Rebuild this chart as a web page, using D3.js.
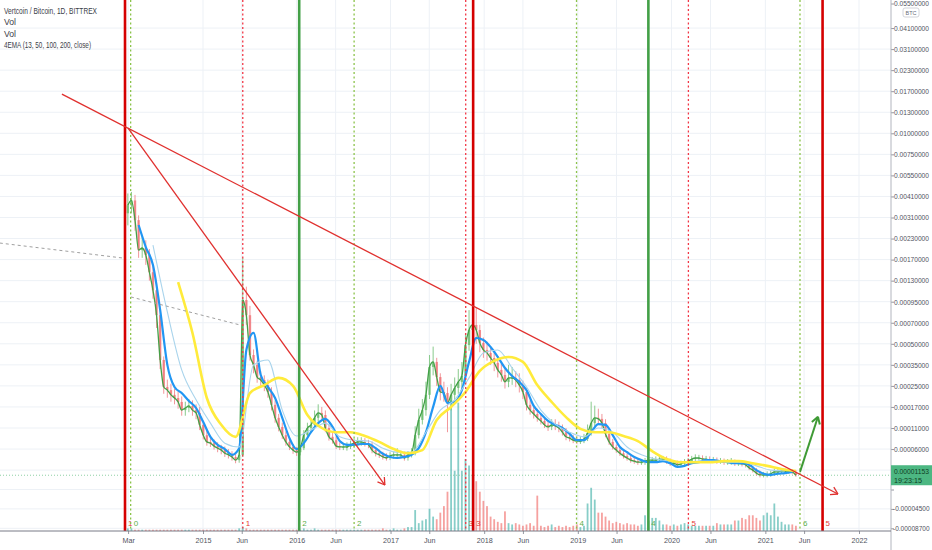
<!DOCTYPE html>
<html><head><meta charset="utf-8">
<script src="https://cdn.jsdelivr.net/npm/d3@7"></script>
<style>html,body{margin:0;padding:0;background:#fff;}svg{display:block;font-family:"Liberation Sans",Arial,sans-serif;}</style>
</head><body>
<svg id="chart" width="932" height="550"></svg>
<script>
// ---------------- DATA (prices in satoshi, 1 sat = 0.00000001 BTC) ----------------
const candleStart = "2014-03-14";
const candleStepDays = 14;
const firstOpen = 330000;
const closes = [368000,391000,300000,197000,203000,183000,146000,114000,79000,38500,
24600,23400,21600,20400,18900,16100,16700,17400,16100,15300,
11900,9300,7700,7400,6700,6200,5800,5200,4900,4500,
3900,4900,97800,79000,42000,35000,29200,27800,25400,22700,
17800,13900,11300,9300,7700,6500,5800,5400,6200,9300,
11000,11900,13900,15300,14700,11000,8900,8100,6700,6500,
6500,6500,7000,7400,7700,7700,7400,7000,5800,5200,
4900,4500,4300,4700,4900,4900,4900,4300,4900,5200,
9300,13300,16100,21600,34000,37100,29200,22700,22300,18500,
21600,24200,26900,29700,49100,63100,67900,63100,50800,45600,
43500,39900,36400,32600,30200,26900,28800,28800,27800,25400,
22700,17800,16100,15000,13900,13000,11900,11300,11900,11600,
11000,10000,8900,8600,8100,7900,7900,8400,9800,12400,
13900,13600,12400,9600,7700,6500,5800,5200,4700,4300,
3900,3700,3500,3500,3700,3900,3900,3900,4100,4100,
3700,3300,3300,3000,3200,3500,3700,4100,4300,4300,
4100,4100,3900,3900,3700,3700,3500,3500,3500,3300,
3300,3200,3000,2400,2000,1500,1200,1200,1200,1400,
1700,1700,1850,1850,1850,1700,1153];
const highs = [430000,440000,420000,320000,240000,225000,200000,160000,125000,85000,
41000,28000,26000,24000,23000,21000,19000,20000,19500,18000,
17000,13000,10500,8800,8300,7600,7000,6600,6000,5600,
5200,5800,175000,120000,90000,46000,38000,32000,30000,28000,
24500,19500,15000,12500,10200,8500,7200,6500,7000,10500,
12500,13500,16000,18000,17000,16000,12000,9800,9000,7600,
7500,7600,8000,8500,8800,8800,8600,8200,7800,6400,
5900,5500,5200,5400,5600,6200,5700,5500,5600,6200,
11500,16500,20000,27000,42000,48000,40000,31000,27000,24500,
26000,29000,33000,37000,60000,85000,92000,88000,68000,56000,
52000,48000,44000,40000,36000,33000,35000,34000,32000,31000,
27500,24000,19500,17500,16500,15000,14000,13000,13500,13500,
12800,12000,11000,9700,9400,9000,9000,9600,12000,19000,
17500,16500,15000,13500,10500,8400,7100,6300,5700,5200,
4800,4400,4200,4100,4300,4500,4500,4600,4800,4700,
4600,4200,3900,3800,3800,4100,4300,4700,5000,4900,
4800,4700,4600,4500,4400,4300,4200,4100,4300,4000,
3900,3800,3700,3400,2800,2400,1900,1700,1800,1900,
2300,2500,2300,2300,2300,2200,2000];
const lows = [280000,330000,260000,175000,175000,160000,130000,100000,65000,33000,
22000,20500,19000,18000,16500,14500,14500,15500,14500,13500,
10500,8300,6800,6500,5900,5400,5000,4500,4200,3800,
3300,3400,4500,68000,38000,31000,26500,25000,23000,20500,
16000,12500,10200,8400,6800,5800,5100,4700,4800,5800,
8500,10000,11000,12800,13000,10000,8000,7300,6000,5800,
5800,5700,6000,6300,6700,6800,6600,6200,5200,4600,
4300,4000,3800,3900,4200,4300,4300,3800,3800,4400,
4800,8500,12000,14500,20000,30000,25000,19500,19000,10000,
16000,19500,22000,24000,27000,45000,52000,50000,44000,40000,
38000,35000,32000,29000,27000,24000,24500,25500,24500,22500,
20000,16000,14800,13700,12800,12000,11000,10300,10500,10500,
10000,9200,8100,7800,7400,7200,7200,7400,7900,9200,
11500,12200,11000,8800,7000,5900,5300,4700,4200,3800,
3400,3200,3000,3000,3000,3200,3400,3400,3500,3500,
3200,2800,2800,2500,2600,2800,3100,3300,3700,3800,
3600,3600,3400,3400,3200,3200,3000,3000,3000,2800,
2800,2700,2500,2000,1600,1100,800,800,800,900,
1100,1300,1400,1400,1400,1300,900];
// relative volume (100 = tallest bar)
const volumes = [2,2,1,1,1,1,1,1,1,1,
1,1,1,1,1,1,1,1,1,1,
1,1,1,1,1,1,1,1,1,1,
1,2,3,2,1,1,1,1,1,1,
1,1,1,1,1,1,1,1,1,2,
1,1,2,1,1,1,1,1,1,1,
1,1,1,1,1,1,1,1,1,1,
1,2,1,1,2,1,1,2,3,3,
16,6,8,9,17,11,9,14,19,30,
100,46,98,46,55,50,42,38,30,23,
19,11,9,7,6,15,6,5,6,5,
4,5,6,4,27,4,3,4,5,3,
4,3,4,3,4,5,3,4,21,33,
24,14,14,11,8,6,7,6,5,6,
5,5,4,5,12,8,10,10,8,5,
5,4,5,4,5,6,5,4,4,4,
4,4,4,4,6,5,5,5,5,8,
8,10,9,12,12,10,8,12,14,12,
21,11,7,5,5,5,4];

const ema50Start = "2014-04-25", ema50StepDays = 28;
const ema50 = [281400,205900,159700,85200,35000,24600,22300,19300,16700,12700,
8900,7000,6000,4900,6200,45600,60300,30200,24600,20400,
13900,8600,6000,7400,10000,12400,13600,11300,7900,7000,
7000,7200,7200,6200,5100,4500,4300,4500,4900,6200,
10000,17000,25000,18500,18900,23400,37100,55500,53600,47700,
40600,33500,29700,26900,23400,17400,15000,13000,11900,11000,
9600,8100,8100,10000,12100,11900,9300,6500,5400,4500,
3900,3500,3500,3700,3300,2600,2800,3300,3500,3900,
3900,3700,3500,3300,3300,3000,2000,1400,1200,1400,
1500,1700];
const ema100Start = "2014-06-20", ema100StepDays = 56;
const ema100 = [211500,82800,32600,19700,12400,7400,6500,35000,38500,16100,
9100,10500,12400,8900,8100,7900,6200,5400,5400,10000,
16100,19700,28800,43500,45600,33500,24600,16100,12100,10000,
8900,11000,10000,6500,4900,4100,3700,3500,3700,3700,
3500,3500,2800,2000,1850];
const ema200Start = "2014-09-26", ema200StepDays = 56;
const ema200 = [127700,60300,20400,11900,8900,22300,25400,28800,25000,14700,
11000,10000,10000,9100,7700,6000,5200,5800,13300,17000,
22700,32100,37800,40600,37100,25400,18900,14100,10800,10000,
10000,9100,7900,5600,4100,3500,3500,3500,3700,3700,
3300,2800,2200,1850];

const yTickValues = [5500000,4100000,3100000,2300000,1700000,1300000,1000000,750000,550000,410000,
310000,230000,170000,130000,95000,70000,50000,35000,25000,17000,11000,6000,2000,-1200,-4500,-8700];
const yHiddenLabels = [2000, -1200]; // hidden behind the last-price badge
const xTickDates = ["2014-03-15","2015-01-01","2015-06-01","2016-01-01","2016-06-01","2017-01-01","2017-06-01",
"2018-01-01","2018-06-01","2019-01-01","2019-06-01","2020-01-01","2020-06-01","2021-01-01","2021-06-01","2022-01-01"];
const xTickLabels = ["Mar","2015","Jun","2016","Jun","2017","Jun","2018","Jun","2019","Jun","2020","Jun","2021","Jun","2022"];

const markerDates = ["2014-03-03","2014-03-25","2015-06-05","2016-01-11","2016-08-12","2017-10-21","2017-11-19","2018-12-27","2019-10-03","2020-03-07","2021-05-16","2021-08-12"];
const markerTypes = ["redSolid","greenDot","redDot","greenSolid","greenDot","redDot","redSolid","greenDot","greenSolid","redDot","greenDot","redSolid"];
const markerLabels = ["1","0","1","2","2","3","3","4","4","5","6","5"];

// drawn lines: [startDate, startPrice, endDate, endPrice]
const resistanceLine = ["2013-06-30", 1644800, "2021-10-11", -1965];
const steepLine = ["2014-03-15", 1073400, "2016-12-10", -460];
const dashedLine1 = ["2012-10-31", 217200, "2014-02-20", 174700];
const dashedLine2 = ["2014-03-26", 102900, "2015-05-25", 67900];
const projectionArrow = ["2021-05-16", 1700, "2021-07-25", 14200];

const lastPrice = 1153;
const lastTime = "19:23:15";
const legendLines = ["Vertcoin / Bitcoin, 1D, BITTREX", "Vol", "Vol", "4EMA (13, 50, 100, 200, close)"];

// ---------------- CHART ----------------
const parse = d3.utcParse("%Y-%m-%d");
const svg = d3.select("#chart");
const plotW = 891, plotH = 531;

const x = d3.scaleUtc().domain([parse("2015-01-01"), parse("2022-01-01")]).range([203, 859]);
const yPos = yTickValues.map((d, i) => i === 0 ? 3.5 : i <= 22 ? 7 + 21.05 * i : 470.1 + (i - 22) * 19.4);
const y = d3.scaleLinear().domain(yTickValues).range(yPos);
const vy = d3.scaleLinear().domain([0, 100]).range([plotH, 400]);
const fmtBTC = v => d3.format(".8f")(v / 1e8).replace("\u2212", "-");

const t0 = parse(candleStart);
const candles = closes.map((c, i) => ({
  date: d3.utcDay.offset(t0, i * candleStepDays),
  o: i ? closes[i - 1] : firstOpen, c, h: highs[i], l: lows[i], v: volumes[i]
}));
const series = (arr, start, step) => arr.map((v, i) => ({date: d3.utcDay.offset(parse(start), i * step), v}));

svg.append("rect").attr("width", 932).attr("height", 550).attr("fill", "#fff");
svg.append("defs").append("clipPath").attr("id", "plot")
  .append("rect").attr("x", 0).attr("y", 0).attr("width", plotW).attr("height", plotH);

// grid
const grid = svg.append("g").attr("clip-path", "url(#plot)");
grid.selectAll("line.h").data(yTickValues.slice(1)).join("line")
  .attr("x1", 0).attr("x2", plotW).attr("y1", d => y(d)).attr("y2", d => y(d))
  .attr("stroke", "#edf1f6").attr("stroke-width", 1);
grid.selectAll("line.v").data(xTickDates).join("line")
  .attr("x1", d => x(parse(d))).attr("x2", d => x(parse(d))).attr("y1", 0).attr("y2", plotH)
  .attr("stroke", "#edf1f6").attr("stroke-width", 1);

const plot = svg.append("g").attr("clip-path", "url(#plot)");

// vertical marker labels (volume sits over them as in the reference)
const mk = plot.append("g");
const markerColor = (t) => t === "redSolid" ? "#d50000" : t === "redDot" ? "#f23645" : t === "greenSolid" ? "#43a047" : "#8bc34a";
markerDates.forEach((d, i) => {
  const t = markerTypes[i], xx = x(parse(d));
  mk.append("text").attr("x", xx + 3).attr("y", 526).text(markerLabels[i])
    .attr("font-size", 8).attr("fill", t.startsWith("red") ? "#e53935" : "#5cae4a");
});

// volume
plot.append("g").selectAll("rect").data(candles).join("rect")
  .attr("x", d => x(d.date) - 0.9).attr("width", 1.8)
  .attr("y", d => vy(d.v)).attr("height", d => plotH - vy(d.v))
  .attr("fill", d => d.c >= d.o ? "#26a69a" : "#ef5350").attr("opacity", 0.55);

// current price line
plot.append("line").attr("x1", 0).attr("x2", plotW).attr("y1", y(lastPrice)).attr("y2", y(lastPrice))
  .attr("stroke", "#8fd0a5").attr("stroke-width", 1).attr("stroke-dasharray", "1,2");

// candles
const cg = plot.append("g");
cg.selectAll("line").data(candles).join("line")
  .attr("x1", d => x(d.date)).attr("x2", d => x(d.date))
  .attr("y1", d => y(d.h)).attr("y2", d => y(d.l))
  .attr("stroke", d => d.c >= d.o ? "#7cc47f" : "#f08a8e").attr("stroke-width", 0.9);
cg.selectAll("rect").data(candles).join("rect")
  .attr("x", d => x(d.date) - 1.2).attr("width", 2.4)
  .attr("y", d => y(Math.max(d.o, d.c)))
  .attr("height", d => Math.max(1, y(Math.min(d.o, d.c)) - y(Math.max(d.o, d.c))))
  .attr("fill", d => d.c >= d.o ? "#66bb6a" : "#ef6f73").attr("opacity", 0.75);

// EMAs
const line = d3.line().x(d => x(d.date)).y(d => y(d.v)).curve(d3.curveMonotoneX);
plot.append("path").datum(candles.map(d => ({date: d.date, v: d.c}))).attr("d", line)
  .attr("fill", "none").attr("stroke", "#43a047").attr("stroke-width", 1.3);
plot.append("path").datum(series(ema50, ema50Start, ema50StepDays)).attr("d", line)
  .attr("fill", "none").attr("stroke", "#2196f3").attr("stroke-width", 2.2);
plot.append("path").datum(series(ema100, ema100Start, ema100StepDays)).attr("d", line)
  .attr("fill", "none").attr("stroke", "#a9d4ec").attr("stroke-width", 1.1);
plot.append("path").datum(series(ema200, ema200Start, ema200StepDays)).attr("d", line)
  .attr("fill", "none").attr("stroke", "#ffeb3b").attr("stroke-width", 2.6);

// vertical marker lines
markerDates.forEach((d, i) => {
  const t = markerTypes[i], xx = x(parse(d)), solid = t.endsWith("Solid");
  mk.append("line").attr("x1", xx).attr("x2", xx).attr("y1", 0).attr("y2", plotH)
    .attr("stroke", markerColor(t))
    .attr("stroke-width", solid ? 2.6 : 1.3)
    .attr("stroke-dasharray", solid ? null : "2,2.5");
});
plot.node().appendChild(mk.node());

// trend lines
const tl = plot.append("g");
function seg(l, color, w, dash, arrow) {
  const x1 = x(parse(l[0])), y1 = y(l[1]), x2 = x(parse(l[2])), y2 = y(l[3]);
  tl.append("line").attr("x1", x1).attr("y1", y1).attr("x2", x2).attr("y2", y2)
    .attr("stroke", color).attr("stroke-width", w).attr("stroke-dasharray", dash);
  if (arrow) {
    const a = Math.atan2(y2 - y1, x2 - x1), L = 8;
    [-0.55, 0.55].forEach(da => {
      tl.append("line").attr("x1", x2).attr("y1", y2)
        .attr("x2", x2 - L * Math.cos(a + da)).attr("y2", y2 - L * Math.sin(a + da))
        .attr("stroke", color).attr("stroke-width", w);
    });
  }
}
seg(dashedLine1, "#a0a0a0", 1, "3,3", false);
seg(dashedLine2, "#a0a0a0", 1, "3,3", false);
seg(resistanceLine, "#e0302e", 1.3, null, true);
seg(steepLine, "#e0302e", 1.3, null, true);
seg(projectionArrow, "#3f9a35", 2, null, true);

// axes
const yAxis = svg.append("g").attr("transform", `translate(${plotW},0)`)
  .call(d3.axisRight(y).tickValues(yTickValues).tickSize(3).tickPadding(0)
    .tickFormat(d => yHiddenLabels.includes(d) ? "" : fmtBTC(d)));
yAxis.select(".domain").remove();
yAxis.selectAll("line").attr("stroke", "#9598a1");
yAxis.selectAll("text").filter(d => yHiddenLabels.includes(d)).remove();
yAxis.selectAll("text").filter(d => d >= 0)
  .attr("font-size", 7.2).attr("x", 3)
  .attr("textLength", 35).attr("lengthAdjust", "spacingAndGlyphs");
yAxis.selectAll("text").filter(d => d < 0)
  .attr("font-size", 6.5).attr("x", 2);
yAxis.selectAll("text").attr("fill", "#50535e").attr("font-family", "Liberation Sans, Arial, sans-serif");
svg.append("line").attr("x1", plotW).attr("x2", plotW).attr("y1", 0).attr("y2", 550).attr("stroke", "#b2b5be");

const xAxis = svg.append("g").attr("transform", `translate(0,${plotH})`)
  .call(d3.axisBottom(x).tickValues(xTickDates.map(parse)).tickSize(3).tickPadding(4)
    .tickFormat((d, i) => xTickLabels[i]));
xAxis.select(".domain").remove();
xAxis.selectAll("line").attr("stroke", "#9598a1");
xAxis.selectAll("text").attr("font-size", 7.2).attr("fill", "#50535e")
  .attr("font-family", "Liberation Sans, Arial, sans-serif");
svg.append("line").attr("x1", 0).attr("x2", plotW).attr("y1", plotH).attr("y2", plotH).attr("stroke", "#787b86");

// last price box
const py = y(lastPrice);
svg.append("rect").attr("x", plotW).attr("y", py - 10).attr("width", 932 - plotW).attr("height", 20).attr("fill", "#4cb782");
svg.append("text").attr("x", plotW + 3).attr("y", py - 1.5).text(fmtBTC(lastPrice))
  .attr("font-size", 7.2).attr("fill", "#0f3d22").attr("textLength", 35).attr("lengthAdjust", "spacingAndGlyphs");
svg.append("text").attr("x", plotW + 3).attr("y", py + 7.5).text(lastTime)
  .attr("font-size", 7.2).attr("fill", "#0f3d22");

// BTC badge
svg.append("rect").attr("x", 903).attr("y", 8).attr("width", 16).attr("height", 9).attr("rx", 2)
  .attr("fill", "#fff").attr("stroke", "#c7c9d0").attr("stroke-width", 0.8);
svg.append("text").attr("x", 911).attr("y", 14.8).attr("text-anchor", "middle").text("BTC")
  .attr("font-size", 5.5).attr("fill", "#6a6d78");

// legend
const legendWidths = [93, 12, 12, 87];
legendLines.forEach((t, i) => {
  svg.append("text").attr("x", 4).attr("y", 14 + i * 11.3).text(t)
    .attr("font-size", 9).attr("fill", "#3b3e48")
    .attr("textLength", legendWidths[i]).attr("lengthAdjust", "spacingAndGlyphs");
});
</script>
</body></html>
